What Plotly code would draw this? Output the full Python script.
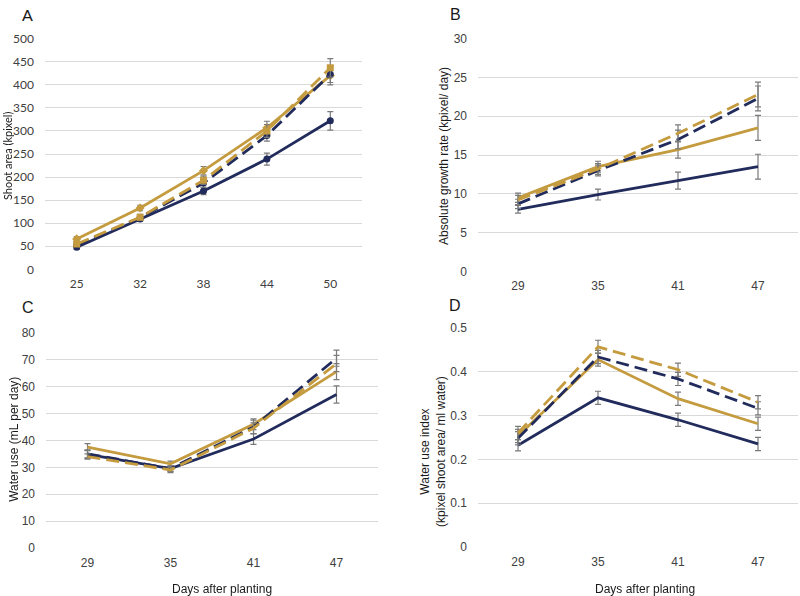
import plotly.graph_objects as go

# ---------------- data ----------------
days_a = ["25", "32", "38", "44", "50"]
days_bcd = ["29", "35", "41", "47"]

# Panel A: shoot area (kpixel)
a_navy_solid = [48, 109, 170, 239, 322]
a_navy_solid_err = [5, 5, 8, 13, 20]
a_navy_dash = [53, 112, 187, 290, 423]
a_navy_dash_err = [5, 5, 9, 12, 18]
a_gold_solid = [66, 133, 214, 307, 420]
a_gold_solid_err = [5, 6, 9, 14, 20]
a_gold_dash = [55, 113, 193, 300, 437]
a_gold_dash_err = [5, 6, 9, 14, 20]

# Panel B: absolute growth rate (kpixel/day)
b_navy_solid = [8.0, 9.9, 11.7, 13.5]
b_navy_solid_err = [0.5, 0.7, 1.1, 1.6]
b_navy_dash = [8.7, 13.0, 17.0, 22.3]
b_navy_dash_err = [0.6, 0.7, 1.2, 1.6]
b_gold_solid = [9.5, 13.5, 15.7, 18.5]
b_gold_solid_err = [0.6, 0.7, 1.1, 1.6]
b_gold_dash = [9.2, 13.2, 17.8, 22.8]
b_gold_dash_err = [0.6, 0.7, 1.1, 1.6]

# Panel C: water use (mL per day)
c_navy_solid = [34.8, 29.5, 40.5, 57.0]
c_navy_solid_err = [1.5, 1.0, 2.0, 3.2]
c_navy_dash = [35.0, 29.5, 45.0, 70.5]
c_navy_dash_err = [1.5, 1.0, 2.5, 3.0]
c_gold_solid = [37.5, 31.3, 46.0, 65.5]
c_gold_solid_err = [1.3, 1.0, 2.0, 3.0]
c_gold_dash = [34.0, 29.0, 44.5, 68.5]
c_gold_dash_err = [1.0, 1.0, 2.0, 3.0]

# Panel D: water use index
d_navy_solid = [0.232, 0.340, 0.290, 0.235]
d_navy_solid_err = [0.013, 0.015, 0.015, 0.015]
d_navy_dash = [0.248, 0.433, 0.383, 0.316]
d_navy_dash_err = [0.015, 0.015, 0.015, 0.015]
d_gold_solid = [0.253, 0.427, 0.338, 0.281]
d_gold_solid_err = [0.015, 0.015, 0.015, 0.015]
d_gold_dash = [0.260, 0.456, 0.404, 0.330]
d_gold_dash_err = [0.015, 0.015, 0.015, 0.015]

NAVY = "#212b5c"
GOLD = "#c49b3f"
ERR = "#7a7a7a"
GRID = "#d9d9d9"

fig = go.Figure()


def add(xs, ys, errs, color, dash, xa, ya, marker=None):
    kw = dict(
        x=xs, y=ys, mode="lines", xaxis=xa, yaxis=ya,
        line=dict(color=color, width=2.8, dash=dash),
        error_y=dict(type="data", array=errs, visible=True, color=ERR,
                     thickness=1.2, width=3),
        showlegend=False, hoverinfo="x+y",
    )
    if marker:
        kw["mode"] = "lines+markers"
        kw["marker"] = dict(symbol=marker, size=7, color=color)
    fig.add_trace(go.Scatter(**kw))


DASH = "13px,6px"

# Panel A
add(days_a, a_navy_solid, a_navy_solid_err, NAVY, "solid", "x", "y", "circle")
add(days_a, a_gold_solid, a_gold_solid_err, GOLD, "solid", "x", "y", "diamond")
add(days_a, a_navy_dash, a_navy_dash_err, NAVY, DASH, "x", "y", "circle")
add(days_a, a_gold_dash, a_gold_dash_err, GOLD, DASH, "x", "y", "square")

# Panel B
add(days_bcd, b_navy_solid, b_navy_solid_err, NAVY, "solid", "x2", "y2")
add(days_bcd, b_gold_solid, b_gold_solid_err, GOLD, "solid", "x2", "y2")
add(days_bcd, b_navy_dash, b_navy_dash_err, NAVY, DASH, "x2", "y2")
add(days_bcd, b_gold_dash, b_gold_dash_err, GOLD, DASH, "x2", "y2")

# Panel C
add(days_bcd, c_navy_solid, c_navy_solid_err, NAVY, "solid", "x3", "y3")
add(days_bcd, c_gold_solid, c_gold_solid_err, GOLD, "solid", "x3", "y3")
add(days_bcd, c_navy_dash, c_navy_dash_err, NAVY, DASH, "x3", "y3")
add(days_bcd, c_gold_dash, c_gold_dash_err, GOLD, DASH, "x3", "y3")

# Panel D
add(days_bcd, d_navy_solid, d_navy_solid_err, NAVY, "solid", "x4", "y4")
add(days_bcd, d_gold_solid, d_gold_solid_err, GOLD, "solid", "x4", "y4")
add(days_bcd, d_navy_dash, d_navy_dash_err, NAVY, DASH, "x4", "y4")
add(days_bcd, d_gold_dash, d_gold_dash_err, GOLD, DASH, "x4", "y4")

W, H = 800, 596


def Y(y):
    # compensate the vertical fit applied when the page is photographed
    return (y - 8.4) / 0.972


def dx(a, b):
    return [a / W, b / W]


def dy(top, bottom):
    return [1 - Y(bottom) / H, 1 - Y(top) / H]


font_a = dict(family="Lato, Open Sans, sans-serif", size=12, color="#404040")
font_b = dict(family="Liberation Sans, Arial, sans-serif", size=12, color="#404040")


def xaxis(domain, anchor, n, font):
    return dict(domain=domain, anchor=anchor, type="category",
                range=[-0.5, n - 0.5], showgrid=False, zeroline=False,
                showline=False, ticks="", tickfont=font, fixedrange=True,
                ticklabelstandoff=6)


def yaxis(domain, anchor, rng, dtick, font):
    return dict(domain=domain, anchor=anchor, range=rng, dtick=dtick,
                showgrid=True, gridcolor=GRID, gridwidth=1, zeroline=False,
                showline=False, ticks="", tickfont=font, fixedrange=True,
                ticklabelstandoff=10)


fig.update_layout(
    width=W, height=H, autosize=False,
    margin=dict(l=0, r=0, t=0, b=0),
    paper_bgcolor="white", plot_bgcolor="white",
    xaxis=xaxis(dx(45, 362), "y", len(days_a), font_a),
    yaxis=yaxis(dy(39, 269), "x", [0, 500], 50, font_a),
    xaxis2=xaxis(dx(478, 798), "y2", len(days_bcd), font_b),
    yaxis2=yaxis(dy(39, 271), "x2", [0, 30], 5, font_b),
    xaxis3=xaxis(dx(46, 378), "y3", len(days_bcd), font_b),
    yaxis3=yaxis(dy(332, 547), "x3", [0, 80], 10, font_b),
    xaxis4=xaxis(dx(478, 798), "y4", len(days_bcd), font_b),
    yaxis4=yaxis(dy(327, 546), "x4", [0, 0.5], 0.1, font_b),
)

ann = []


def text(x, y, s, size=12, angle=0, family="Liberation Sans, Arial, sans-serif"):
    ann.append(dict(x=x / W, y=1 - Y(y) / H, xref="paper", yref="paper",
                    text=s, showarrow=False, textangle=angle,
                    xanchor="center", yanchor="middle",
                    font=dict(family=family, size=size, color="#1a1a1a")))


text(27, 15, "A", 16, family="Lato, Open Sans, sans-serif")
text(456, 15, "B", 16)
text(28, 307, "C", 16)
text(455, 305, "D", 16)
text(7, 156, "Shoot area (kpixel)", 11, -90, family="Lato, Open Sans, sans-serif")
text(444, 156, "Absolute growth rate (kpixel/ day)", 12, -90)
text(14, 439, "Water use (mL per day)", 12, -90)
text(433, 451, "Water use index<br>(kpixel shoot area/ ml water)", 12, -90)
text(222, 588, "Days after planting", 12)
text(645, 588, "Days after planting", 12)

fig.update_layout(annotations=ann)

# place the 800x596 figure flush with the page's top-left corner
post = (
    "document.documentElement.style.margin='0';"
    "document.body.style.margin='0';"
    "document.body.style.padding='0';"
    "document.body.style.overflow='hidden';"
    "var st=document.createElement('style');"
    "st.textContent='.main-svg{overflow:visible !important;}';"
    "document.head.appendChild(st);"
    "var gd=document.getElementById('{plot_id}');"
    "gd.style.position='fixed';gd.style.left='0px';gd.style.top='0px';"
    "Plotly.relayout(gd,{width:800,height:596});"
)

fig.write_html("out.html", post_script=post,
               config={"displayModeBar": False, "responsive": True})
